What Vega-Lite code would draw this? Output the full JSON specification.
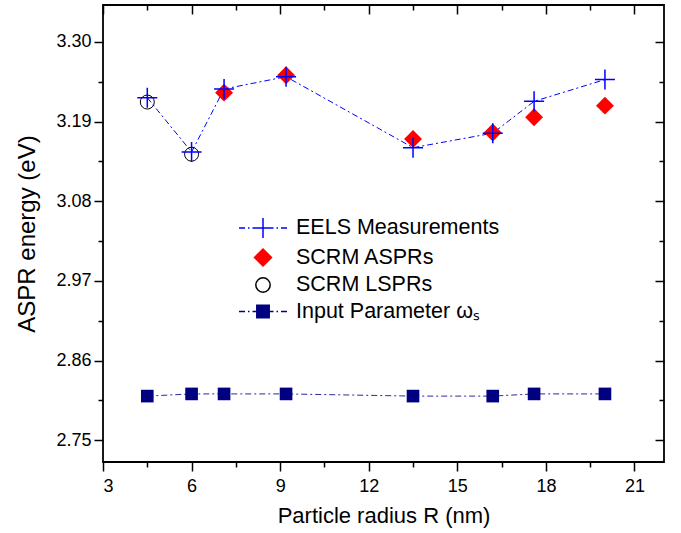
{
  "$schema": "https://vega.github.io/schema/vega-lite/v6.json",
  "width": 561,
  "height": 457,
  "autosize": {"type": "none"},
  "padding": {"left": 103, "top": 5, "right": 17, "bottom": 71},
  "config": {
    "view": {"stroke": "black", "strokeWidth": 1.8},
    "font": "Liberation Sans",
    "axis": {
      "grid": false, "domain": false, "tickColor": "black", "tickWidth": 1.5,
      "labelColor": "black", "titleColor": "black",
      "labelFont": "Liberation Sans", "titleFont": "Liberation Sans",
      "labelFontSize": 18, "titleFontSize": 22, "titleFontWeight": "normal"
    }
  },
  "data": {
    "values": [
      {"series": "EELS Measurements", "R": 4.5, "E": 3.223},
      {"series": "EELS Measurements", "R": 6.0, "E": 3.148},
      {"series": "EELS Measurements", "R": 7.1, "E": 3.235},
      {"series": "EELS Measurements", "R": 9.2, "E": 3.252},
      {"series": "EELS Measurements", "R": 13.5, "E": 3.154},
      {"series": "EELS Measurements", "R": 16.2, "E": 3.174},
      {"series": "EELS Measurements", "R": 17.6, "E": 3.218},
      {"series": "EELS Measurements", "R": 20.0, "E": 3.248},
      {"series": "SCRM ASPRs", "R": 7.1, "E": 3.230},
      {"series": "SCRM ASPRs", "R": 9.2, "E": 3.254},
      {"series": "SCRM ASPRs", "R": 13.5, "E": 3.166},
      {"series": "SCRM ASPRs", "R": 16.2, "E": 3.175},
      {"series": "SCRM ASPRs", "R": 17.6, "E": 3.196},
      {"series": "SCRM ASPRs", "R": 20.0, "E": 3.212},
      {"series": "SCRM LSPRs", "R": 4.5, "E": 3.217},
      {"series": "SCRM LSPRs", "R": 6.0, "E": 3.145},
      {"series": "Input Parameter ωₛ", "R": 4.5, "E": 2.811},
      {"series": "Input Parameter ωₛ", "R": 6.0, "E": 2.814},
      {"series": "Input Parameter ωₛ", "R": 7.1, "E": 2.814},
      {"series": "Input Parameter ωₛ", "R": 9.2, "E": 2.814},
      {"series": "Input Parameter ωₛ", "R": 13.5, "E": 2.811},
      {"series": "Input Parameter ωₛ", "R": 16.2, "E": 2.811},
      {"series": "Input Parameter ωₛ", "R": 17.6, "E": 2.814},
      {"series": "Input Parameter ωₛ", "R": 20.0, "E": 2.814}
    ]
  },
  "layer": [
    {
      "transform": [{"filter": "datum.series === 'EELS Measurements'"}],
      "mark": {"type": "line", "stroke": "#0000ff", "strokeWidth": 1, "strokeDash": [6, 3, 2, 3]},
      "encoding": {
        "x": {"field": "R", "type": "quantitative", "scale": {"domain": [3, 22], "nice": false, "zero": false},
              "axis": {"orient": "bottom", "values": [3, 6, 9, 12, 15, 18, 21], "tickSize": 9, "labelPadding": 6, "title": "Particle radius R (nm)", "titlePadding": 10}},
        "y": {"field": "E", "type": "quantitative", "scale": {"domain": [2.72, 3.351], "nice": false, "zero": false},
              "axis": {"orient": "left", "values": [2.75, 2.86, 2.97, 3.08, 3.19, 3.30], "format": ".2f", "tickSize": 9, "labelPadding": 3, "title": "ASPR energy (eV)", "titleFontSize": 24, "titlePadding": 16}}
      }
    },
    {
      "transform": [{"filter": "datum.series === 'Input Parameter ωₛ'"}],
      "mark": {"type": "line", "stroke": "#2a2a98", "strokeWidth": 1, "strokeDash": [6, 3, 2, 3]},
      "encoding": {
        "x": {"field": "R", "type": "quantitative", "scale": {"domain": [3, 22], "nice": false, "zero": false},
              "axis": {"orient": "bottom", "values": [4.5, 7.5, 10.5, 13.5, 16.5, 19.5], "tickSize": 5, "labels": false, "title": null}},
        "y": {"field": "E", "type": "quantitative", "scale": {"domain": [2.72, 3.351], "nice": false, "zero": false},
              "axis": {"orient": "left", "values": [2.805, 2.915, 3.025, 3.135, 3.245], "tickSize": 5, "labels": false, "title": null}}
      }
    },
    {
      "transform": [{"filter": "datum.series === 'SCRM LSPRs'"}],
      "mark": {"type": "point", "shape": "circle", "size": 196, "filled": false, "stroke": "black", "strokeWidth": 1, "opacity": 1},
      "encoding": {
        "x": {"field": "R", "type": "quantitative", "scale": {"domain": [3, 22], "nice": false, "zero": false},
              "axis": {"orient": "top", "values": [3, 6, 9, 12, 15, 18, 21], "tickSize": -9, "labels": false, "title": null}},
        "y": {"field": "E", "type": "quantitative", "scale": {"domain": [2.72, 3.351], "nice": false, "zero": false},
              "axis": {"orient": "right", "values": [2.75, 2.86, 2.97, 3.08, 3.19, 3.30], "tickSize": -9, "labels": false, "title": null}}
      }
    },
    {
      "transform": [{"filter": "datum.series === 'SCRM ASPRs'"}],
      "mark": {"type": "point", "shape": "diamond", "size": 320, "filled": true, "color": "#ff0000", "opacity": 1},
      "encoding": {
        "x": {"field": "R", "type": "quantitative", "scale": {"domain": [3, 22], "nice": false, "zero": false},
              "axis": {"orient": "top", "values": [4.5, 7.5, 10.5, 13.5, 16.5, 19.5], "tickSize": -5, "labels": false, "title": null}},
        "y": {"field": "E", "type": "quantitative", "scale": {"domain": [2.72, 3.351], "nice": false, "zero": false},
              "axis": {"orient": "right", "values": [2.805, 2.915, 3.025, 3.135, 3.245], "tickSize": -5, "labels": false, "title": null}}
      }
    },
    {
      "transform": [{"filter": "datum.series === 'EELS Measurements'"}],
      "mark": {"type": "point", "shape": "M-1,0L1,0M0,-1L0,1", "size": 400, "filled": false, "stroke": "#0000ff", "strokeWidth": 1.5, "opacity": 1},
      "encoding": {
        "x": {"field": "R", "type": "quantitative", "axis": null},
        "y": {"field": "E", "type": "quantitative", "axis": null}
      }
    },
    {
      "transform": [{"filter": "datum.series === 'Input Parameter ωₛ'"}],
      "mark": {"type": "point", "shape": "square", "size": 160, "filled": true, "color": "#000080", "opacity": 1},
      "encoding": {
        "x": {"field": "R", "type": "quantitative", "axis": null},
        "y": {"field": "E", "type": "quantitative", "axis": null}
      }
    },
    {
      "mark": {"type": "point", "opacity": 0},
      "encoding": {
        "x": {"field": "R", "type": "quantitative", "axis": null},
        "y": {"field": "E", "type": "quantitative", "axis": null},
        "shape": {
          "field": "series", "type": "nominal",
          "scale": {
            "domain": ["EELS Measurements", "SCRM ASPRs", "SCRM LSPRs", "Input Parameter ωₛ"],
            "range": [
              "M-2.4,0L-1.8,0M-1.5,0L-1.35,0M-1.05,0L1.05,0M1.35,0L1.5,0M1.8,0L2.4,0M0,-1L0,1",
              "M0,-0.85L0.85,0L0,0.85L-0.85,0Z",
              "M-0.72,0A0.72,0.72,0,1,1,0.72,0A0.72,0.72,0,1,1,-0.72,0Z",
              "M-2.4,0L-1.8,0M-1.5,0L-1.35,0M-1.05,0L1.05,0M1.35,0L1.5,0M1.8,0L2.4,0M-0.62,-0.62L0.62,-0.62L0.62,0.62L-0.62,0.62Z"
            ]
          },
          "legend": {"orient": "none", "legendX": 149, "legendY": 212, "title": null, "symbolSize": 400, "symbolStrokeWidth": 1.5, "symbolOpacity": 1, "labelFontSize": 21.5, "labelFont": "Liberation Sans", "labelColor": "black", "labelOffset": 22, "rowPadding": 4.5, "padding": 0, "labelLimit": 400}
        },
        "fill": {
          "field": "series", "type": "nominal",
          "scale": {
            "domain": ["EELS Measurements", "SCRM ASPRs", "SCRM LSPRs", "Input Parameter ωₛ"],
            "range": ["transparent", "#ff0000", "transparent", "#000080"]
          },
          "legend": {"orient": "none", "legendX": 149, "legendY": 212, "title": null, "symbolSize": 400, "symbolStrokeWidth": 1.5, "symbolOpacity": 1, "labelFontSize": 21.5, "labelFont": "Liberation Sans", "labelColor": "black", "labelOffset": 22, "rowPadding": 4.5, "padding": 0, "labelLimit": 400}
        },
        "stroke": {
          "field": "series", "type": "nominal",
          "scale": {
            "domain": ["EELS Measurements", "SCRM ASPRs", "SCRM LSPRs", "Input Parameter ωₛ"],
            "range": ["#0000ff", "#ff0000", "#000000", "#000080"]
          },
          "legend": {"orient": "none", "legendX": 149, "legendY": 212, "title": null, "symbolSize": 400, "symbolStrokeWidth": 1.5, "symbolOpacity": 1, "labelFontSize": 21.5, "labelFont": "Liberation Sans", "labelColor": "black", "labelOffset": 22, "rowPadding": 4.5, "padding": 0, "labelLimit": 400}
        }
      }
    }
  ],
  "resolve": {"axis": {"x": "independent", "y": "independent"}}
}
